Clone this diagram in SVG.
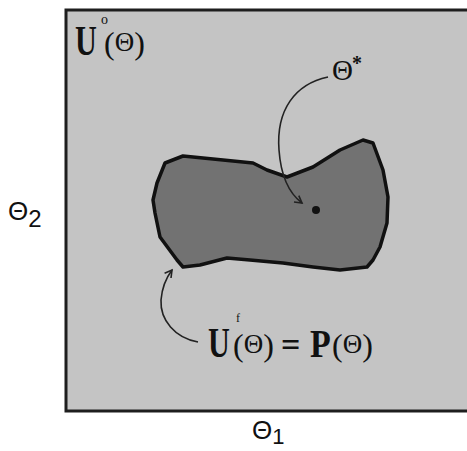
<svg xmlns="http://www.w3.org/2000/svg" width="467" height="451" viewBox="0 0 467 451">
<defs>
<style>
.serif{font-family:"Liberation Serif","Times New Roman",serif;fill:#111}
.sans{font-family:"Liberation Sans",Arial,sans-serif;fill:#111}
.conn{fill:none;stroke:#222;stroke-width:1.6}
</style>
<marker id="ah" markerWidth="10" markerHeight="10" refX="8" refY="5" orient="auto" markerUnits="userSpaceOnUse">
<path d="M1,1 L8,5 L1,9" fill="none" stroke="#222" stroke-width="1.6"/>
</marker>
</defs>
<rect width="467" height="451" fill="#ffffff"/>
<g id="space">
<rect x="66" y="10" width="410" height="401" fill="#c4c4c4" stroke="#1e1e1e" stroke-width="3"/>
</g>
<g id="region">
<path d="M165,163 L183,156 L253,163 L267,170 L287,177 L313,167 L340,150 L363,140 L373,143 L383,170 L388,197 L387,223 L380,247 L373,260 L367,267 L340,270 L313,267 L283,263 L250,260 L227,258 L200,265 L183,267 L177,260 L160,237 L155,213 L153,200 L157,183 Z" fill="#727272" stroke="#111" stroke-width="3.5" stroke-linejoin="round"/>
</g>
<g id="optimum">
<circle cx="316" cy="210" r="4" fill="#111"/>
</g>
<g id="connectors">
<path class="conn" d="M328,77 C295,84 276,110 279,150 C281,178 290,194 302,203" marker-end="url(#ah)"/>
<path class="conn" d="M198,342 C175,338 160,320 161,300 C162,288 166,278 172,270" marker-end="url(#ah)"/>
</g>
<g id="label-u0">
<text class="serif" transform="translate(75,55) scale(0.72,1)" font-size="42" font-weight="bold">U</text>
<text class="serif" x="101" y="24" font-size="14">o</text>
<text class="serif" x="104" y="54" font-size="32">(<tspan font-size="27" dy="-3">Θ</tspan><tspan dy="3">)</tspan></text>
</g>
<g id="label-star">
<text class="serif" x="332" y="80" font-size="29">Θ</text>
<text class="serif" x="352" y="70" font-size="20" font-weight="bold">*</text>
</g>
<g id="label-uf">
<text class="serif" transform="translate(208,357) scale(0.72,1)" font-size="42" font-weight="bold">U</text>
<text class="serif" x="236" y="322" font-size="12">f</text>
<text class="serif" x="233" y="356" font-size="32">(<tspan font-size="27" dy="-3">Θ</tspan><tspan dy="3">)</tspan></text>
<text class="serif" x="281" y="356" font-size="34" font-weight="bold">=</text>
<text class="serif" transform="translate(310,357) scale(0.85,1)" font-size="40" font-weight="bold">P</text>
<text class="serif" x="332" y="356" font-size="32">(<tspan font-size="27" dy="-3">Θ</tspan><tspan dy="3">)</tspan></text>
</g>
<g id="axis-y">
<text class="sans" x="8" y="220" font-size="26">Θ<tspan font-size="24" dy="7">2</tspan></text>
</g>
<g id="axis-x">
<text class="sans" x="252" y="439" font-size="26">Θ<tspan font-size="22" dy="5">1</tspan></text>
</g>
</svg>
